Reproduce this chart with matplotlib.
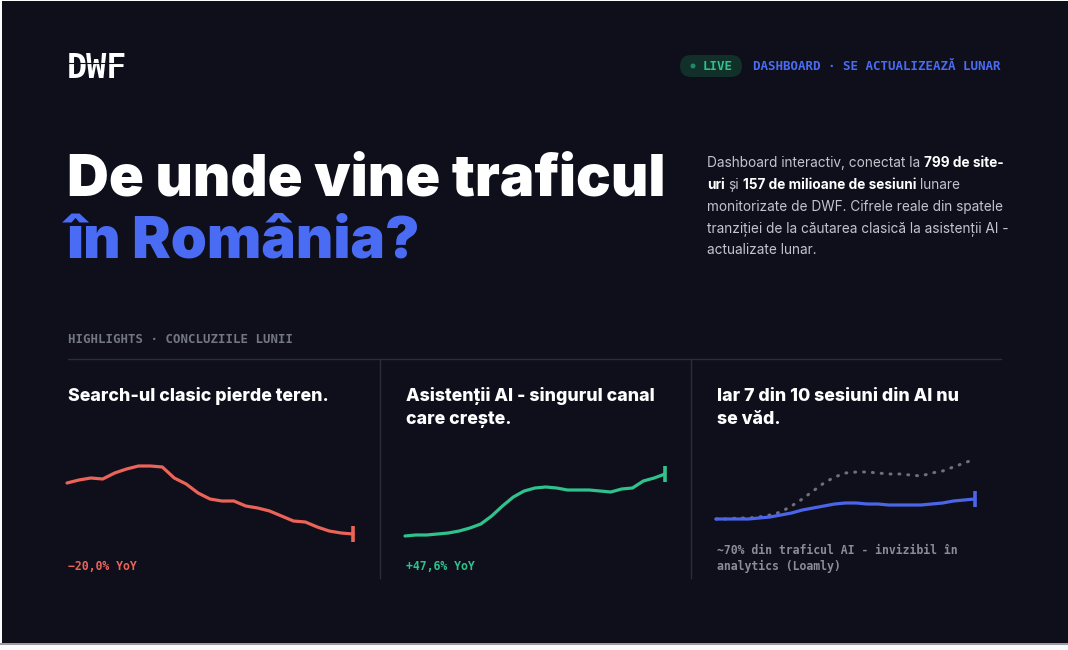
import matplotlib
matplotlib.use('Agg')
import matplotlib.pyplot as plt
from matplotlib.patches import Rectangle, FancyBboxPatch, Circle
from matplotlib.lines import Line2D

# ---------------- data ----------------
months = list(range(25))
search_classic = [77, 80, 82, 81, 87, 91, 94, 94, 93, 82, 76, 67, 61, 59, 59, 54, 52, 49, 44, 39, 38, 33, 29, 27, 26]
ai_assistants = [24, 25, 25, 26, 27, 29, 32, 36, 44, 54, 63, 69, 72, 73, 72, 70, 70, 70, 69, 68, 71, 72, 79, 82, 86]
ai_total_est = [41, 41, 42, 42, 43, 45, 48, 54, 61, 69, 77, 83, 87, 88, 88, 87, 86, 86, 85, 84, 87, 89, 93, 97, 101]
ai_visible = [41, 41, 41, 41, 42, 43, 45, 47, 50, 52, 54, 56, 57, 57, 56, 56, 55, 55, 55, 55, 56, 57, 59, 60, 61]

panel_titles = [["Search-ul clasic pierde teren."],
                ["Asistenții AI - singurul canal", "care crește."],
                ["Iar 7 din 10 sesiuni din AI nu", "se văd."]]
panel_notes = [["−20,0% YoY"], ["+47,6% YoY"], ["~70% din traficul AI - invizibil în", "analytics (Loamly)"]]

# ---------------- style ----------------
W, H = 1068, 650
BG = '#0e0f1b'
WHITE = '#ffffff'
BLUE = '#4a6cf5'
RED = '#ec6358'
GREEN = '#2fc28c'
LINEBLUE = '#4b65ea'
GREY_DOT = '#6d6f7c'
MUTED = '#737683'
NOTE = '#8a8c97'
BODY = '#c3c5cd'
SEP = '#2b2d39'

SANS = ['Inter', 'DejaVu Sans']
MONO = ['DejaVu Sans Mono']

fig = plt.figure(figsize=(W / 100, H / 100), dpi=100)
fig.patch.set_facecolor('#fbfbfb')


def X(p):
    return p / W


def Y(p):
    return 1 - p / H


def I(px, py):
    return px / 100, (H - py) / 100


# background panel
fig.add_artist(Rectangle((X(1.5), Y(643)), 1 - X(1.5), Y(1) - Y(643), transform=fig.transFigure,
                         facecolor=BG, edgecolor='none', zorder=0))
fig.add_artist(Line2D([0, 1], [Y(643.5), Y(643.5)], transform=fig.transFigure, color='#8a8b92', lw=1.2, zorder=1))

# logo
fig.text(X(67), Y(78), "DWF", color=WHITE, fontsize=24, fontweight='bold',
         family=MONO, va='baseline', ha='left', zorder=3)
fig.add_artist(Line2D([X(66), X(130)], [Y(63), Y(63)], transform=fig.transFigure, color=BG, lw=0.8, zorder=4))

# LIVE badge
bx, by = I(680, 77)
fig.add_artist(FancyBboxPatch((bx, by), 0.62, 0.22, boxstyle="round,pad=0,rounding_size=0.11",
                              transform=fig.dpi_scale_trans, facecolor='#11302a', edgecolor='none', zorder=2))
cx, cy = I(693, 66)
fig.add_artist(Circle((cx, cy), 0.025, transform=fig.dpi_scale_trans, facecolor='#1f8a62', edgecolor='none', zorder=3))
fig.text(X(703), Y(70), "LIVE", color=GREEN, fontsize=9, fontweight='bold', family=MONO, va='baseline', zorder=3)
fig.text(X(753), Y(70), "DASHBOARD · SE ACTUALIZEAZĂ LUNAR", color=BLUE, fontsize=9, fontweight='bold',
         family=MONO, va='baseline', zorder=3)

# headline
fig.text(X(67), Y(196), "De unde vine traficul", color=WHITE, fontsize=41.6, fontweight=900,
         family=SANS, va='baseline', zorder=3)
fig.text(X(67), Y(258), "în România?", color=BLUE, fontsize=41.6, fontweight=900,
         family=SANS, va='baseline', zorder=3)

# description paragraph with bold runs
desc_lines = [
    [("Dashboard interactiv, conectat la", False), (" ", False), ("799 de site-", True)],
    [("uri", True), (" ", False), ("și", False), (" ", False), ("157 de milioane de sesiuni", True), (" ", False), ("lunare", False)],
    [("monitorizate de DWF. Cifrele reale din spatele", False)],
    [("tranziției de la căutarea clasică la asistenții AI -", False)],
    [("actualizate lunar.", False)],
]
desc_base = [167, 189, 210.5, 232, 253.5]
renderer = fig.canvas.get_renderer()
DS = 9.8


def text_w(s, bold):
    t = fig.text(0, 0, s, fontsize=DS, fontweight='bold' if bold else 'normal', family=SANS)
    w = t.get_window_extent(renderer).width
    t.remove()
    return w


space_w = text_w("a a", False) - text_w("aa", False)
for line, yb in zip(desc_lines, desc_base):
    x = 707
    for seg, bold in line:
        if seg == " ":
            x += space_w
            continue
        fig.text(X(x), Y(yb), seg, color=WHITE if bold else BODY, fontsize=DS,
                 fontweight='bold' if bold else 'normal', family=SANS, va='baseline', zorder=3)
        x += text_w(seg, bold)

# highlights header + separators
fig.text(X(68), Y(343), "HIGHLIGHTS · CONCLUZIILE LUNII", color=MUTED, fontsize=8.9, fontweight='bold',
         family=MONO, va='baseline', zorder=3)
fig.add_artist(Line2D([X(68), X(1001)], [Y(359.5), Y(359.5)], transform=fig.transFigure, color=SEP, lw=1, zorder=2))
for xv in (379.5, 690.5):
    fig.add_artist(Line2D([X(xv), X(xv)], [Y(360), Y(578)], transform=fig.transFigure, color=SEP, lw=1, zorder=2))

# panel titles and notes
panel_x = [68, 406, 717]
note_colors = [RED, GREEN, NOTE]
for px, titles, notes, nc in zip(panel_x, panel_titles, panel_notes, note_colors):
    for k, t in enumerate(titles):
        fig.text(X(px), Y(401 + 23 * k), t, color=WHITE, fontsize=12.8, fontweight=800, family=SANS,
                 va='baseline', zorder=3)
    if len(notes) == 1:
        fig.text(X(px), Y(570), notes[0], color=nc, fontsize=8.3, fontweight='bold', family=MONO,
                 va='baseline', zorder=3)
    else:
        for k, t in enumerate(notes):
            fig.text(X(px), Y(554 + 16 * k), t, color=nc, fontsize=8.3, fontweight='bold', family=MONO,
                     va='baseline', zorder=3)


# sparklines
def spark_ax(x0, x1):
    ax = fig.add_axes([X(x0), Y(560), X(x1) - X(x0), 120 / H])
    ax.set_xlim(0, 24)
    ax.set_ylim(0, 120)
    ax.axis('off')
    ax.patch.set_alpha(0)
    return ax


def endtick(ax, xv, yv, c):
    ax.plot([xv], [yv], marker='|', markersize=11, markeredgewidth=2.6, color=c, clip_on=False)


LW = 2.3
ax1 = spark_ax(67, 353)
ax1.plot(months, search_classic, color=RED, lw=LW, solid_joinstyle='round', solid_capstyle='round', clip_on=False)
endtick(ax1, months[-1], search_classic[-1], RED)

ax2 = spark_ax(405, 665)
ax2.plot(months, ai_assistants, color=GREEN, lw=LW, solid_joinstyle='round', solid_capstyle='round', clip_on=False)
endtick(ax2, months[-1], ai_assistants[-1], GREEN)

ax3 = spark_ax(716, 975)
ax3.plot(months, ai_total_est, color=GREY_DOT, lw=2.2, linestyle=(0, (0.3, 2.6)), dash_capstyle='round',
         clip_on=False)
ax3.plot(months, ai_visible, color=LINEBLUE, lw=LW, solid_joinstyle='round', solid_capstyle='round', clip_on=False)
endtick(ax3, months[-1], ai_visible[-1], LINEBLUE)

fig.savefig('out.png', dpi=100, facecolor=fig.get_facecolor())
